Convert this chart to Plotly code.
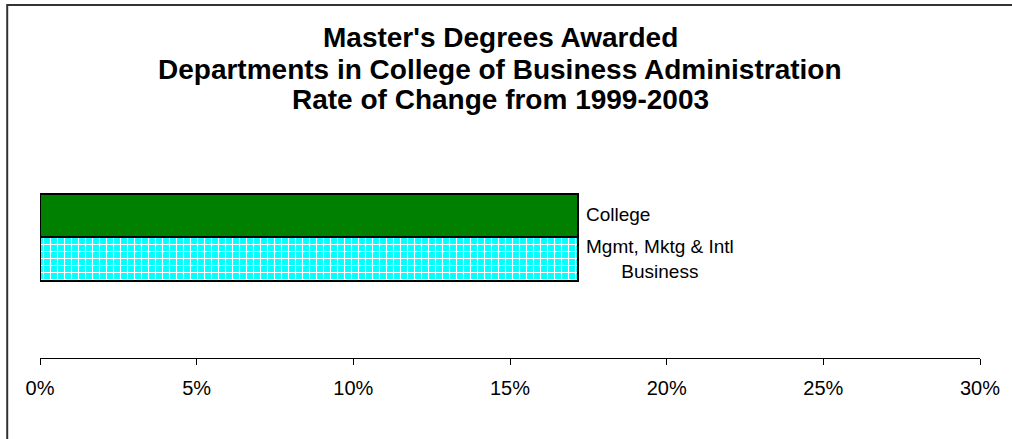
import plotly.graph_objects as go

categories = ["Mgmt, Mktg & Intl<br>Business", "College"]
rates = [0.1716, 0.1716]
bar_colors = ["#00FFFF", "#008000"]
tick_vals = [0, 0.05, 0.10, 0.15, 0.20, 0.25, 0.30]
tick_text = ["0%", "5%", "10%", "15%", "20%", "25%", "30%"]
title_lines = ["Master's Degrees Awarded",
               "Departments in College of Business Administration",
               "Rate of Change from 1999-2003"]

W, H = 1012, 439
ML, MT = 40, 150
PW, PH = 946, 208
MR, MB = W - ML - PW, H - MT - PH

def px_x(p):
    return (p - ML) / PW

def px_y(p):
    return (H - MB - p) / PH

FONT = "Liberation Sans, Arial, sans-serif"

fig = go.Figure()
for i, (cat, val, col) in enumerate(zip(categories, rates, bar_colors)):
    marker = dict(color=col, line=dict(color="black", width=2))
    if i == 0:
        marker["pattern"] = dict(shape="+", fgcolor="white", bgcolor=col,
                                 size=7, solidity=0.3, fillmode="replace")
    fig.add_trace(go.Bar(x=[val], y=[i], orientation="h", marker=marker,
                         width=1, showlegend=False, hoverinfo="skip"))
    fig.add_annotation(x=val, y=i, xref="x", yref="y", text=cat,
                       showarrow=False, xanchor="left", yanchor="middle",
                       xshift=6, yshift=1 if i == 1 else 0, align="center",
                       font=dict(family=FONT, size=19, color="black"))

title_y = [38, 69, 99]
for line, ty in zip(title_lines, title_y):
    fig.add_annotation(x=px_x(503), y=px_y(ty), xref="paper", yref="paper",
                       text="<b>" + line + "</b>", showarrow=False,
                       xanchor="center", yanchor="middle",
                       font=dict(family=FONT, size=28, color="black"))

fig.add_shape(type="rect", xref="paper", yref="paper",
              x0=px_x(7), x1=px_x(1030), y0=px_y(5), y1=px_y(460),
              line=dict(color="#333333", width=2), fillcolor="rgba(0,0,0,0)")

fig.update_layout(
    width=W, height=H,
    margin=dict(l=ML, r=MR, t=MT, b=MB, pad=0),
    paper_bgcolor="white", plot_bgcolor="white",
    barmode="overlay", bargap=0,
    font=dict(family=FONT, size=20, color="black"),
    xaxis=dict(range=[0, 0.30], tickvals=tick_vals, ticktext=tick_text,
               showline=True, linecolor="black", linewidth=1,
               ticks="outside", ticklen=6, tickcolor="black", tickwidth=1,
               showgrid=False, zeroline=False, ticklabelstandoff=6,
               tickfont=dict(family=FONT, size=20, color="black")),
    yaxis=dict(range=[-2.27, 2.51], visible=False, showgrid=False, zeroline=False),
)
fig.write_html("out.html",
               config={"displayModeBar": False},
               post_script="document.body.style.margin='0';document.body.style.overflow='hidden';")
